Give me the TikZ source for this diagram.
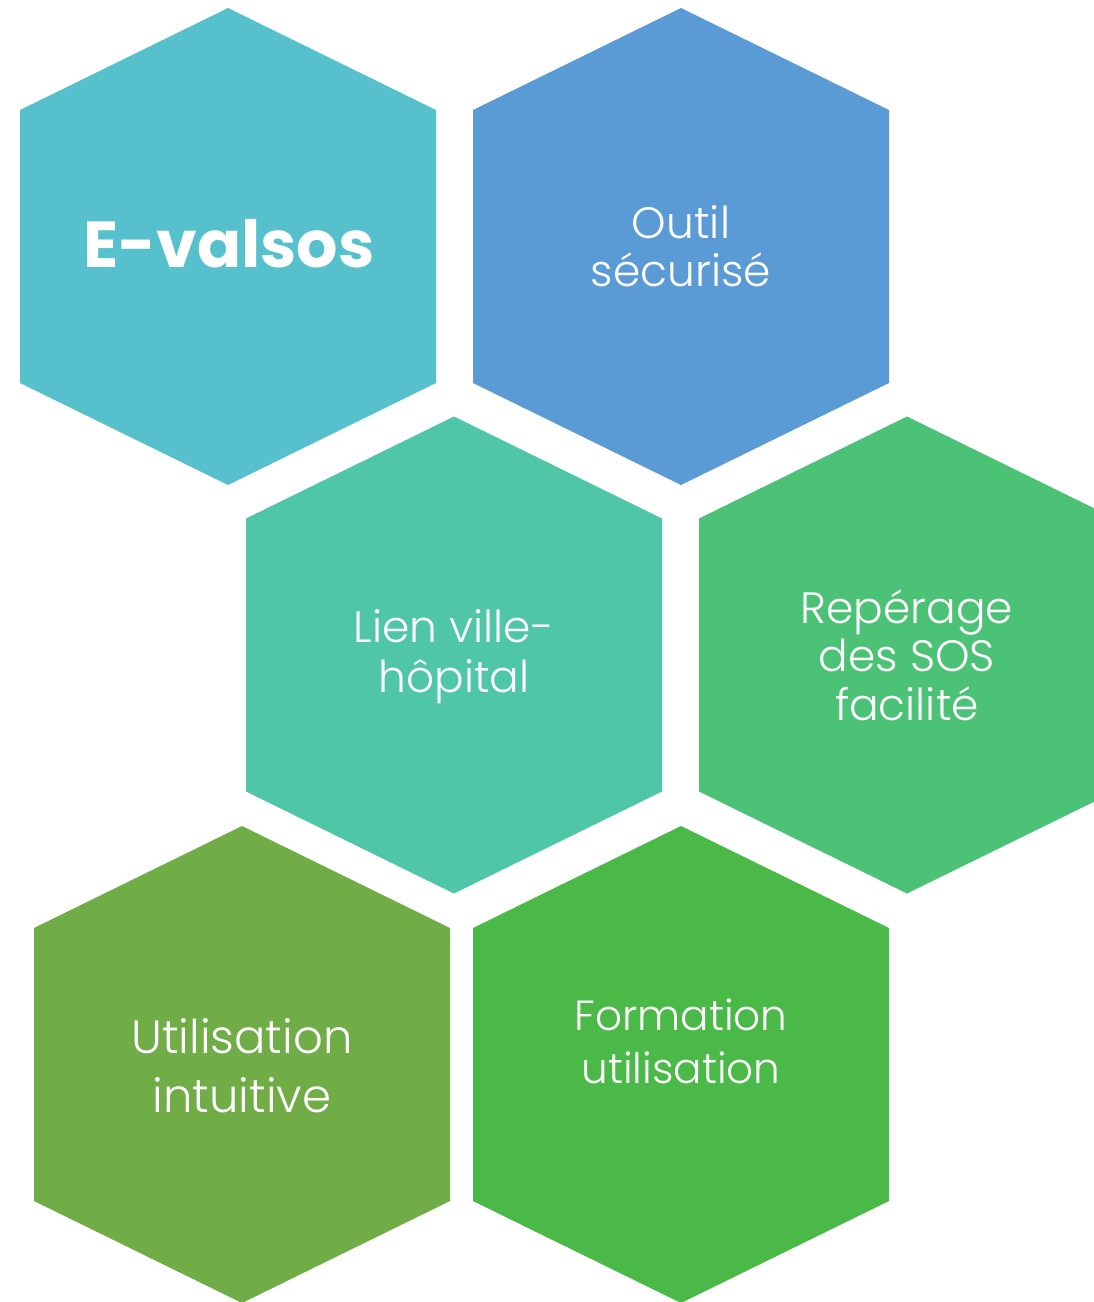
\documentclass[tikz,border=0pt]{standalone}
\usepackage{fontspec}
\setmainfont{Poppins}[UprightFont=* Light, BoldFont=* Bold]
\usepackage{tikz}
\definecolor{hexcyan}{HTML}{56C1CD}
\definecolor{hexblue}{HTML}{5B9BD5}
\definecolor{hexteal}{HTML}{4FC6A7}
\definecolor{hexmint}{HTML}{4CC276}
\definecolor{hexolive}{HTML}{70AD47}
\definecolor{hexgreen}{HTML}{4AB947}
% one hexagon cell, centre (#1,#2) in pixels
\newcommand{\hexcell}[3]{\fill[#3] (#1,#2) ++(0,-238.5) -- ++(208,102) -- ++(0,273) -- ++(-208,102) -- ++(-208,-102) -- ++(0,-273) -- cycle;}

\begin{document}
\begin{tikzpicture}[x=0.02cm, y=-0.02cm,
    cell/.style={text=white, align=center, inner sep=0pt, font=\fontsize{25}{27.5}\selectfont}]
    \useasboundingbox (0,0) rectangle (1094,1302);
    \clip (0,0) rectangle (1094,1302);
    \hexcell{228}{246.5}{hexcyan}
    \hexcell{681}{246.5}{hexblue}
    \hexcell{454}{655}{hexteal}
    \hexcell{907}{655}{hexmint}
    \hexcell{242}{1064.5}{hexolive}
    \hexcell{681}{1064.5}{hexgreen}

    \path 
    (229,244) node[cell, font=\bfseries\fontsize{37}{40}\selectfont] (evalsos) {E-valsos}
    (681,246) node[cell] (outil) {Outil\\sécurisé}
    (454,657) node[cell, font=\fontsize{25}{28.5}\selectfont] (lien) {Lien ville-\\hôpital}
    (907,655) node[cell] (reperage) {Repérage\\des SOS\\facilité}
    (242,1066) node[cell, font=\fontsize{26.5}{33.5}\selectfont] (utilisation) {Utilisation\\intuitive}
    (681,1041) node[cell, font=\fontsize{24}{30}\selectfont] (formation) {Formation\\utilisation};
\end{tikzpicture}
\end{document}
